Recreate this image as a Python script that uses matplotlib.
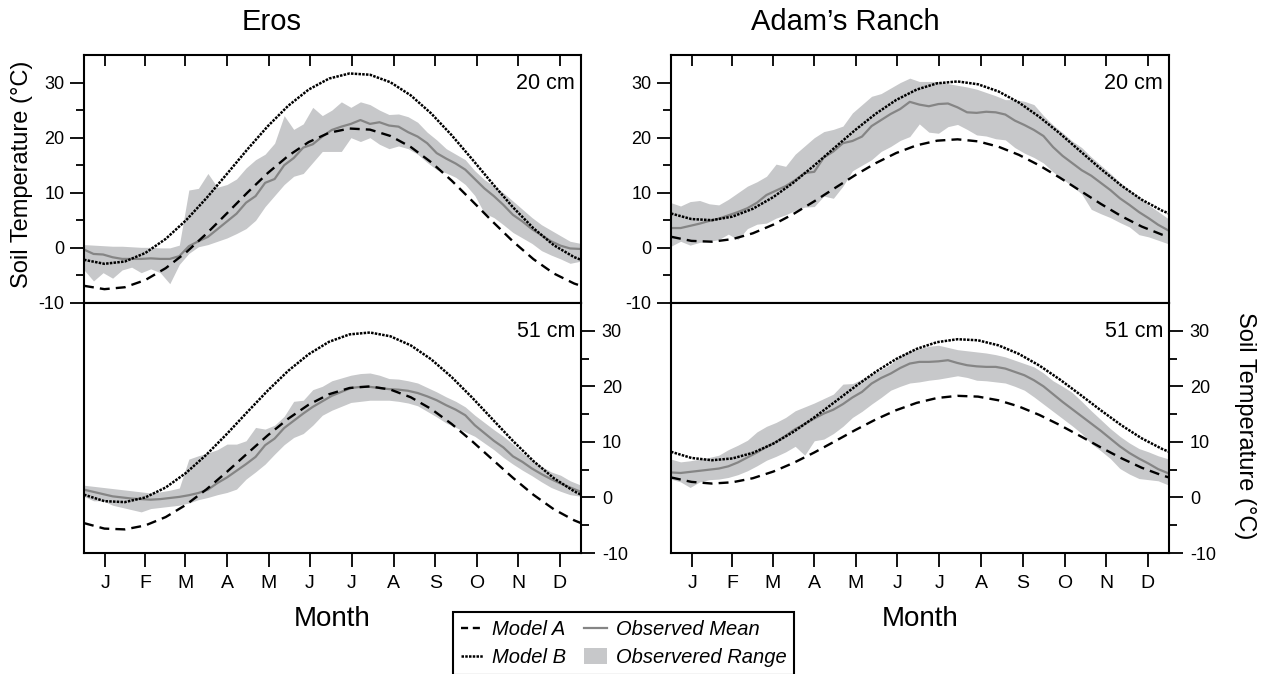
import matplotlib
matplotlib.use("Agg")
import matplotlib.pyplot as plt
from matplotlib.lines import Line2D
from matplotlib.patches import Patch

plt.rcParams["font.family"] = ["Liberation Sans", "DejaVu Sans"]
plt.rcParams["axes.unicode_minus"] = False

# ---------------------------------------------------------------- data
month_days = [15.5, 45, 74.5, 105, 135.5, 166, 196.5, 227.5, 258, 288.5, 319, 349.5]
month_labels = ["J", "F", "M", "A", "M", "J", "J", "A", "S", "O", "N", "D"]

# day of year for the model curves
model_days = [0, 15, 30, 45, 60, 75, 90, 105, 120, 135, 150, 165, 180,
              195, 210, 225, 240, 255, 270, 285, 300, 315, 330, 345, 360, 365]

eros20_model_a = [-6.88, -7.49, -7.14, -5.84, -3.68, -0.81, 2.59, 6.28, 10.03, 13.59,
                  16.71, 19.20, 20.89, 21.66, 21.46, 20.31, 18.30, 15.53, 12.21, 8.54,
                  4.79, 1.18, -2.03, -4.64, -6.47, -6.88]
eros20_model_b = [-2.16, -2.89, -2.47, -0.93, 1.63, 5.03, 9.05, 13.43, 17.88, 22.09,
                  25.79, 28.73, 30.73, 31.65, 31.42, 30.06, 27.67, 24.39, 20.45, 16.11,
                  11.66, 7.38, 3.58, 0.49, -1.68, -2.16]
eros51_model_a = [-4.62, -5.61, -5.75, -5.04, -3.53, -1.31, 1.47, 4.62, 7.93, 11.19,
                  14.18, 16.70, 18.58, 19.70, 19.99, 19.42, 18.03, 15.92, 13.23, 10.13,
                  6.82, 3.54, 0.49, -2.12, -4.12, -4.62]
eros51_model_b = [0.50, -0.67, -0.84, 0.00, 1.79, 4.43, 7.72, 11.45, 15.39, 19.25,
                  22.80, 25.78, 28.02, 29.35, 29.69, 29.01, 27.37, 24.86, 21.67, 17.99,
                  14.07, 10.18, 6.56, 3.47, 1.10, 0.50]
adam20_model_a = [2.02, 1.27, 1.12, 1.59, 2.65, 4.22, 6.19, 8.45, 10.84, 13.20,
                  15.37, 17.21, 18.61, 19.45, 19.70, 19.33, 18.36, 16.88, 14.96, 12.74,
                  10.36, 7.99, 5.77, 3.87, 2.39, 2.02]
adam20_model_b = [6.24, 5.23, 5.03, 5.67, 7.10, 9.22, 11.90, 14.96, 18.20, 21.39,
                  24.33, 26.83, 28.72, 29.86, 30.20, 29.69, 28.39, 26.37, 23.77, 20.77,
                  17.54, 14.33, 11.33, 8.75, 6.75, 6.24]
adam51_model_a = [3.60, 2.80, 2.50, 2.73, 3.46, 4.66, 6.24, 8.09, 10.09, 12.12,
                  14.03, 15.70, 17.02, 17.90, 18.29, 18.15, 17.49, 16.37, 14.85, 13.03,
                  11.04, 9.01, 7.07, 5.35, 3.97, 3.60]
adam51_model_b = [8.22, 7.11, 6.70, 7.02, 8.03, 9.68, 11.85, 14.41, 17.18, 19.97,
                  22.61, 24.92, 26.74, 27.95, 28.48, 28.29, 27.38, 25.83, 23.74, 21.23,
                  18.49, 15.69, 13.01, 10.64, 8.73, 8.22]

# day of year for the observations
obs_days = [0, 7, 14, 21, 28, 35, 42, 49, 56, 63, 70, 77, 84, 91, 98, 105, 112,
            119, 126, 133, 140, 147, 154, 161, 168, 175, 182, 189, 196, 203, 210,
            217, 224, 231, 238, 245, 252, 259, 266, 273, 280, 287, 294, 301, 308,
            315, 322, 329, 336, 343, 350, 357, 365]

eros20_mean = [-0.3, -1.1, -1.2, -1.7, -2.0, -2.0, -2.0, -1.9, -2.0, -2.0, -1.5, 0.3,
               1.2, 2.0, 3.4, 4.8, 6.2, 8.2, 9.4, 11.8, 12.5, 15.0, 16.3, 18.2, 18.8,
               20.2, 21.4, 22.0, 22.5, 23.2, 22.5, 22.8, 22.2, 22.0, 21.0, 20.2, 19.0,
               17.2, 16.2, 15.3, 14.2, 12.5, 10.8, 9.4, 7.8, 6.0, 4.8, 3.4, 2.3, 1.2,
               0.4, -0.1, -0.2]
eros20_low = [-4.0, -6.0, -4.5, -5.5, -4.0, -3.5, -4.5, -3.8, -4.5, -6.5, -3.0, -1.0,
              0.2, 0.6, 1.2, 1.8, 2.6, 3.5, 5.0, 7.5, 9.5, 11.5, 13.0, 13.5, 15.5,
              17.5, 17.5, 17.5, 20.0, 19.3, 20.0, 18.8, 18.0, 18.5, 18.0, 17.0, 15.5,
              14.2, 13.6, 12.8, 11.5, 9.5, 6.3, 5.5, 4.2, 2.8, 1.8, 0.8, -0.5, -1.3,
              -2.0, -2.8, -2.4]
eros20_high = [0.6, 0.5, 0.4, 0.3, 0.3, 0.2, 0.1, 0.1, 0.0, 0.0, 0.5, 10.5,
               10.8, 13.5, 11.0, 11.5, 12.5, 14.5, 16.0, 17.0, 19.0, 24.0, 21.5, 22.5,
               25.5, 24.0, 25.0, 26.5, 25.5, 26.5, 26.0, 25.0, 24.2, 24.3, 23.8, 22.8,
               21.0, 19.6, 18.0, 17.0, 16.0, 14.0, 12.4, 11.2, 10.0, 8.5, 7.0, 5.5, 4.2,
               3.2, 2.2, 1.2, 0.8]

eros51_mean = [1.4, 1.0, 0.6, 0.2, 0.0, -0.2, -0.3, -0.4, -0.3, -0.1, 0.1, 0.4,
               0.8, 1.4, 2.6, 3.6, 4.8, 6.0, 7.3, 9.4, 10.6, 12.5, 13.8, 15.1, 16.3,
               17.3, 18.3, 19.0, 19.7, 19.9, 19.9, 19.7, 19.5, 19.4, 19.2, 18.8, 18.2,
               17.5, 16.6, 15.8, 14.8, 13.0, 11.6, 10.2, 9.0, 7.4, 6.4, 5.2, 4.2, 3.3,
               2.5, 1.8, 1.0]
eros51_low = [0.2, -0.6, -0.6, -1.4, -1.8, -2.2, -2.6, -2.0, -1.8, -1.6, -1.4, -1.0,
              -0.4, 0.0, 0.5, 0.9, 1.5, 3.3, 4.6, 6.0, 7.8, 9.5, 10.8, 11.5, 13.0,
              14.8, 15.7, 16.4, 17.1, 17.3, 17.5, 17.5, 17.5, 17.3, 17.0, 16.5, 15.5,
              14.5, 13.4, 12.6, 11.8, 11.0, 9.8, 8.6, 7.2, 6.0, 4.9, 3.9, 2.8, 1.8,
              1.1, 0.5, 0.2]
eros51_high = [2.2, 2.0, 1.8, 1.6, 1.4, 1.2, 1.0, 0.8, 1.0, 1.3, 1.7, 6.9,
               7.5, 8.0, 8.6, 9.6, 9.6, 10.2, 12.6, 12.3, 13.0, 14.6, 17.3, 17.5, 19.4,
               20.0, 21.0, 21.5, 22.0, 22.3, 22.4, 22.0, 21.4, 21.3, 21.0, 20.6, 19.8,
               19.0, 18.1, 17.3, 16.3, 14.8, 13.5, 12.2, 11.0, 9.6, 8.0, 6.8, 5.6, 4.6,
               4.0, 3.0, 2.2]

adam20_mean = [3.6, 3.6, 4.0, 4.4, 4.9, 5.3, 5.9, 6.5, 7.2, 8.2, 9.6, 10.4,
               11.2, 12.3, 13.6, 13.8, 16.4, 17.5, 19.0, 19.4, 20.2, 22.1, 23.2, 24.3,
               25.2, 26.5, 26.0, 25.7, 26.1, 26.2, 25.5, 24.6, 24.5, 24.7, 24.6, 24.2,
               23.1, 22.3, 21.4, 20.3, 18.3, 16.7, 15.4, 14.1, 13.1, 11.8, 10.5, 9.0,
               7.8, 6.5, 5.4, 4.2, 3.1]
adam20_low = [0.3, 1.2, 0.5, 1.0, 1.2, 1.5, 2.5, 1.5, 3.5, 4.3, 4.5, 5.4,
              6.0, 6.8, 7.4, 7.5, 9.4, 9.0, 11.2, 14.0, 15.0, 16.0, 17.5, 18.4, 19.5,
              20.2, 22.5, 21.0, 20.8, 22.0, 22.4, 21.5, 20.5, 20.3, 19.8, 19.6, 18.2,
              17.2, 16.4, 15.4, 13.8, 12.5, 11.2, 9.8, 7.0, 6.2, 5.5, 4.6, 3.8, 2.4,
              2.0, 1.4, 0.7]
adam20_high = [8.2, 7.6, 8.4, 8.6, 8.0, 7.8, 8.8, 10.0, 11.2, 12.0, 13.0, 15.2,
               14.8, 17.0, 18.5, 20.0, 21.1, 21.5, 22.1, 24.5, 26.0, 27.5, 28.0, 29.0,
               30.0, 30.8, 30.2, 30.2, 30.2, 29.8, 29.5, 29.2, 28.8, 28.2, 27.6, 26.9,
               26.9, 26.6, 26.0, 24.0, 22.3, 20.9, 19.4, 18.2, 16.5, 15.0, 13.5, 11.9,
               10.4, 9.2, 7.8, 6.6, 5.2]

adam51_mean = [4.5, 4.4, 4.6, 4.8, 5.0, 5.2, 5.6, 6.3, 7.2, 8.1, 9.1, 10.0,
               11.1, 12.3, 13.2, 14.2, 15.1, 15.8, 16.8, 18.0, 19.0, 20.5, 21.5, 22.3,
               23.3, 24.1, 24.4, 24.4, 24.5, 24.7, 24.2, 23.8, 23.6, 23.5, 23.5, 23.2,
               22.6, 22.0, 21.1, 20.0, 18.6, 17.2, 15.9, 14.6, 13.3, 12.0, 10.6, 9.2,
               8.0, 7.0, 6.1, 5.1, 4.3]
adam51_low = [3.3, 2.8, 1.8, 2.8, 3.2, 3.3, 3.6, 4.1, 4.8, 5.7, 6.7, 7.4,
              8.2, 9.2, 7.6, 10.2, 10.5, 11.5, 12.8, 14.4, 15.5, 16.8, 18.0, 19.3,
              20.0, 20.6, 20.8, 21.1, 21.3, 21.6, 21.9, 21.6, 21.1, 21.0, 20.8, 20.6,
              20.0, 19.3, 18.1, 16.8, 15.5, 14.2, 12.9, 11.5, 9.7, 8.4, 7.0, 5.2, 4.2,
              3.4, 3.2, 3.0, 2.2]
adam51_high = [6.9, 6.4, 6.6, 6.9, 7.2, 7.6, 8.6, 9.4, 10.3, 11.8, 12.8, 13.5,
               14.4, 15.6, 16.3, 17.0, 17.8, 18.6, 20.4, 20.5, 21.3, 22.2, 23.0, 24.0,
               25.5, 26.4, 26.8, 27.2, 27.4, 27.0, 26.6, 26.4, 26.2, 26.0, 25.7, 25.3,
               24.7, 24.1, 23.5, 22.4, 21.0, 20.0, 18.9, 17.3, 15.6, 14.0, 12.4, 11.0,
               9.8, 8.8, 8.2, 7.5, 6.9]

panels = [
    ("eros", "20 cm", eros20_model_a, eros20_model_b, eros20_mean, eros20_low, eros20_high),
    ("eros", "51 cm", eros51_model_a, eros51_model_b, eros51_mean, eros51_low, eros51_high),
    ("adam", "20 cm", adam20_model_a, adam20_model_b, adam20_mean, adam20_low, adam20_high),
    ("adam", "51 cm", adam51_model_a, adam51_model_b, adam51_mean, adam51_low, adam51_high),
]

# ---------------------------------------------------------------- styles
W, H = 1265, 674
RANGE_COLOR = "#c7c8ca"
MEAN_COLOR = "#858585"
DASH_A = (0, (4.2, 2.6))
DOT_B = (0, (1.0, 0.5))
SPINE_W = 1.5
TICK_FS = 13
MONTH_FS = 14

fig = plt.figure(figsize=(W / 100, H / 100), dpi=100)


def px_rect(x0, y0, x1, y1):
    return [x0 / W, 1 - y1 / H, (x1 - x0) / W, (y1 - y0) / H]


col_x = {"eros": (84, 581), "adam": (671, 1169)}
row_y = {"20 cm": (55, 303), "51 cm": (303, 553)}

axes = {}
for site, depth, ma, mb, mean, low, high in panels:
    x0, x1 = col_x[site]
    y0, y1 = row_y[depth]
    ax = fig.add_axes(px_rect(x0, y0, x1, y1))
    axes[(site, depth)] = ax

    ax.fill_between(obs_days, low, high, color=RANGE_COLOR, lw=0, zorder=1)
    ax.plot(obs_days, mean, color=MEAN_COLOR, lw=1.6, zorder=2)
    ax.plot(model_days, ma, color="black", lw=1.7, linestyle=DASH_A, zorder=3)
    ax.plot(model_days, mb, color="black", lw=1.8, linestyle=DOT_B, zorder=3)

    ax.set_xlim(0, 365)
    ax.set_ylim(-10, 35)
    for sp in ax.spines.values():
        sp.set_linewidth(SPINE_W)

    ax.set_xticks(month_days)
    ax.set_yticks([-10, 0, 10, 20, 30])
    ax.set_yticks([-5, 5, 15, 25], minor=True)

    ax.text(0.988, 0.885, depth, transform=ax.transAxes, ha="right", va="center",
            fontsize=15.5)

    if depth == "20 cm":
        ax.tick_params(axis="x", which="major", direction="in", top=True, bottom=False,
                       labelbottom=False, labeltop=False, length=8, width=1.3)
        ax.tick_params(axis="y", which="both", direction="out", left=True, right=False,
                       labelleft=True, labelright=False, width=1.3, labelsize=TICK_FS, pad=4)
        ax.tick_params(axis="y", which="major", length=10)
        ax.tick_params(axis="y", which="minor", length=6)
    else:
        ax.set_xticklabels(month_labels)
        ax.tick_params(axis="x", which="major", direction="out", top=False, bottom=True,
                       length=10, width=1.3, labelsize=MONTH_FS, pad=6)
        ax.tick_params(axis="y", which="both", direction="out", left=False, right=True,
                       labelleft=False, labelright=True, width=1.3, labelsize=TICK_FS, pad=5)
        ax.tick_params(axis="y", which="major", length=10)
        ax.tick_params(axis="y", which="minor", length=6)
        ax.set_xlabel("Month", fontsize=20, labelpad=10)

# axis titles
ax_l = axes[("eros", "20 cm")]
ax_l.set_ylabel("Soil Temperature (°C)", fontsize=17, va="center")
ax_l.yaxis.set_label_coords(-0.125, 0.52)
ax_r = axes[("adam", "51 cm")]
ax_r.yaxis.set_label_position("right")
ax_r.set_ylabel("Soil Temperature (°C)", fontsize=17, rotation=270, va="center")
ax_r.yaxis.set_label_coords(1.153, 0.51)

fig.text(272 / W, 1 - 22 / H, "Eros", ha="center", va="center", fontsize=21)
fig.text(845 / W, 1 - 22 / H, "Adam\u2019s Ranch", ha="center", va="center", fontsize=21)

# legend
handles = [
    Line2D([], [], color="black", lw=1.7, linestyle=(0, (3, 2))),
    Line2D([], [], color="black", lw=1.8, linestyle=DOT_B),
    Line2D([], [], color=MEAN_COLOR, lw=1.6),
    Patch(facecolor=RANGE_COLOR, edgecolor="none"),
]
labels = ["Model A", "Model B", "Observed Mean", "Observered Range"]
leg = fig.legend(handles, labels, ncol=2, loc="upper left",
                 bbox_to_anchor=(453 / W, 1 - 612 / H),
                 prop={"family": ["Liberation Sans", "DejaVu Sans"], "style": "italic", "size": 14.5},
                 frameon=True, fancybox=False, framealpha=1, edgecolor="black",
                 handlelength=1.1, handleheight=0.8, handletextpad=0.45, columnspacing=0.9,
                 labelspacing=0.45, borderpad=0.4, borderaxespad=0)
leg.get_frame().set_linewidth(1.5)

fig.savefig("out.png", dpi=100)
